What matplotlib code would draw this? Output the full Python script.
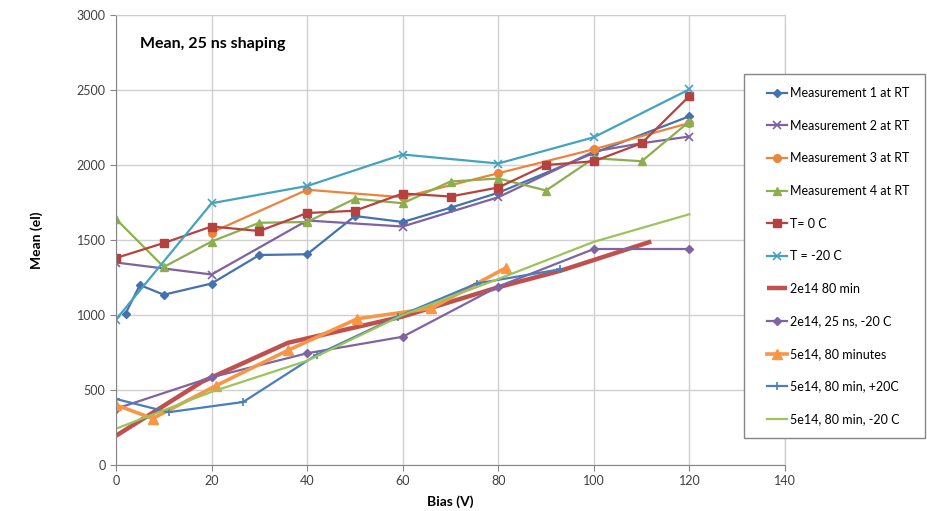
import matplotlib
matplotlib.use("Agg")
import matplotlib.pyplot as plt
from matplotlib.patches import Rectangle

plt.rcParams['font.family'] = ['Lato', 'DejaVu Sans']

# --- data ---
m1_x = [2, 5, 10, 20, 30, 40, 50, 60, 70, 80, 100, 120]
m1_y = [1010, 1200, 1135, 1210, 1400, 1405, 1660, 1620, 1715, 1815, 2080, 2325]

m2_x = [0, 20, 40, 60, 80, 100, 110, 120]
m2_y = [1350, 1270, 1630, 1590, 1785, 2090, 2145, 2190]

m3_x = [20, 40, 60, 80, 100, 120]
m3_y = [1550, 1835, 1785, 1945, 2105, 2280]

m4_x = [0, 10, 20, 30, 40, 50, 60, 70, 80, 90, 100, 110, 120]
m4_y = [1640, 1320, 1490, 1615, 1620, 1775, 1745, 1890, 1910, 1830, 2045, 2025, 2290]

t0_x = [0, 10, 20, 30, 40, 50, 60, 70, 80, 90, 100, 110, 120]
t0_y = [1380, 1480, 1590, 1560, 1680, 1695, 1810, 1790, 1850, 2000, 2025, 2145, 2460]

tm20_x = [0, 20, 40, 60, 80, 100, 120]
tm20_y = [970, 1745, 1860, 2070, 2010, 2185, 2505]

a80_x = [0, 18, 36, 60, 80, 93, 112]
a80_y = [195, 555, 815, 990, 1185, 1295, 1490]

a25_x = [0, 20, 40, 60, 80, 100, 120]
a25_y = [375, 585, 745, 855, 1190, 1440, 1440]

b80_x = [0, 7.7, 21, 36, 50.5, 66, 81.6]
b80_y = [400, 310, 530, 765, 975, 1045, 1315]

bp20_x = [0, 11, 26.6, 42, 59, 75.5, 93]
bp20_y = [440, 352, 420, 735, 990, 1210, 1305]

bm20_x = [0, 20, 40, 60, 80, 100, 120]
bm20_y = [242, 488, 695, 1000, 1240, 1488, 1672]

fig = plt.figure(figsize=(9.27, 5.11), dpi=100)
ax = fig.add_axes([116 / 927, 1 - 465 / 511, (785 - 116) / 927, (465 - 15) / 511])

ax.plot(m1_x, m1_y, color='#4572AE', lw=1.6, marker='D', ms=4.5, label='Measurement 1 at RT')
ax.plot(m2_x, m2_y, color='#7E62A1', lw=1.6, marker='x', ms=5.5, mew=1.2, label='Measurement 2 at RT')
ax.plot(m3_x, m3_y, color='#EC843C', lw=1.6, marker='o', ms=5.5, label='Measurement 3 at RT')
ax.plot(m4_x, m4_y, color='#8CAF4E', lw=1.6, marker='^', ms=6, label='Measurement 4 at RT')
ax.plot(t0_x, t0_y, color='#B6423F', lw=1.6, marker='s', ms=6, label='T= 0 C')
ax.plot(tm20_x, tm20_y, color='#45A3BF', lw=1.6, marker='x', ms=5.5, mew=1.2, label='T = -20 C')
ax.plot(a80_x, a80_y, color='#C0504D', lw=3.2, solid_capstyle='butt', label='2e14 80 min')
ax.plot(a25_x, a25_y, color='#8064A2', lw=1.6, marker='D', ms=4.5, label='2e14, 25 ns, -20 C')
ax.plot(b80_x, b80_y, color='#F79646', lw=2.6, marker='^', ms=7, label='5e14, 80 minutes')
ax.plot(bp20_x, bp20_y, color='#4A7EBB', lw=1.6, marker='+', ms=6, mew=1.2, label='5e14, 80 min, +20C')
ax.plot(bm20_x, bm20_y, color='#9BC45A', lw=1.6, label='5e14, 80 min, -20 C')

ax.set_xlim(0, 140)
ax.set_ylim(0, 3000)
ax.set_xticks(range(0, 141, 20))
ax.set_yticks(range(0, 3001, 500))
ax.grid(True, color='#D0D0D0', lw=1)
ax.set_axisbelow(True)
ax.tick_params(labelsize=9, colors='#404040', length=4, color='#868686')

for side in ['left', 'bottom']:
    ax.spines[side].set_color('#868686')
for side in ['top', 'right']:
    ax.spines[side].set_color('#B9CDE5')

ax.set_xlabel('Bias (V)', fontsize=10, fontweight='bold', labelpad=6)
ax.set_ylabel('Mean (el)', fontsize=10, fontweight='bold', labelpad=24)

ax.text(5, 2810, 'Mean, 25 ns shaping', fontsize=11.5, fontweight='bold', va='center')

# legend box
fig.patches.append(Rectangle((744 / 927, 1 - 438 / 511), (925 - 744) / 927, (438 - 74) / 511,
                             transform=fig.transFigure, facecolor='white', edgecolor='#868686',
                             lw=1, zorder=4.9))
handles, labels = ax.get_legend_handles_labels()
leg = fig.legend(handles, labels, loc='upper left', bbox_to_anchor=(767 / 927, 1 - 87 / 511),
                 frameon=False, fontsize=9, labelspacing=1.65, handlelength=1.6,
                 handletextpad=0.2, borderpad=0, borderaxespad=0)
leg.set_zorder(5)

fig.savefig('out.png', dpi=100)
